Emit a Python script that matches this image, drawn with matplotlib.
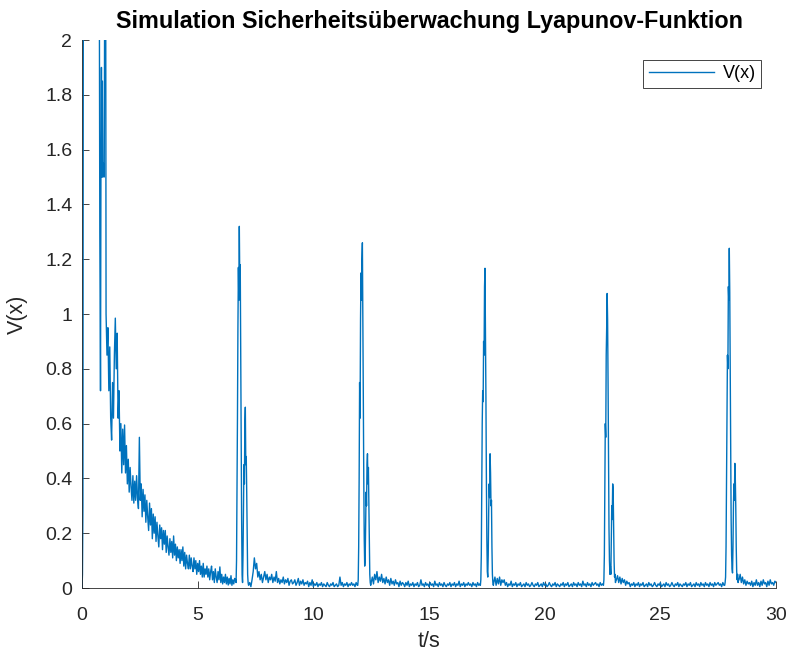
import numpy as np
import matplotlib
matplotlib.use("Agg")
import matplotlib.pyplot as plt

plt.rcParams['font.family'] = ['Liberation Sans', 'DejaVu Sans']

# start-up transient (explicit time stamps), values above 2 are clipped by the axis
t_start = [0.0, 0.02, 0.04, 0.06, 0.08, 0.70, 0.74, 0.77, 0.80, 0.82, 0.84,
           0.86, 0.88, 0.90, 0.93, 0.96, 0.99, 1.02]
v_start = [0.0, 0.05, 0.3, 2.5, 3.0, 3.0, 2.6, 1.3, 0.72, 1.6, 1.9,
           1.5, 1.85, 1.5, 1.55, 1.5, 2.5, 2.6]

# decay after start-up, dt = 0.04 s from 1.04 s
decay_t0, decay_dt = 1.04, 0.04
decay_v = [
    1.00, 0.85, 0.95, 0.72, 0.88, 0.62, 0.54, 0.75, 0.62, 0.85,
    0.985, 0.80, 0.93, 0.62, 0.72, 0.50, 0.60, 0.42, 0.58, 0.45,
    0.595, 0.42, 0.52, 0.38, 0.47, 0.35, 0.44, 0.37, 0.32, 0.41,
    0.31, 0.39, 0.32, 0.41, 0.33, 0.29, 0.55, 0.32, 0.38, 0.26,
    0.36, 0.28, 0.34, 0.24, 0.32, 0.26, 0.21, 0.31, 0.23, 0.29,
    0.18, 0.27, 0.20, 0.26, 0.17, 0.24, 0.19, 0.15, 0.23, 0.18,
    0.22, 0.14, 0.21, 0.16, 0.21, 0.13, 0.19, 0.15, 0.12, 0.18,
    0.13, 0.17, 0.11, 0.19, 0.12, 0.16, 0.10, 0.15, 0.11, 0.14,
    0.09, 0.14, 0.10, 0.15, 0.08, 0.13, 0.07, 0.12, 0.09, 0.07,
    0.12, 0.07, 0.11, 0.08, 0.06, 0.11, 0.07, 0.10, 0.05, 0.09,
    0.06, 0.10, 0.05, 0.08, 0.04, 0.09, 0.04, 0.07, 0.05, 0.08,
    0.04, 0.07, 0.03, 0.06, 0.08, 0.03, 0.06, 0.02, 0.07, 0.04,
    0.02, 0.06, 0.03, 0.077, 0.02, 0.05, 0.015, 0.04, 0.02, 0.05,
    0.015, 0.04, 0.011, 0.035, 0.015, 0.045, 0.01, 0.03, 0.015, 0.035,
]

# pulses, dt = 0.02 s
pulse_dt = 0.02
pulse1_t0 = 6.64
pulse1_v = [0.03, 0.02, 0.10, 0.35, 0.62, 0.95, 1.17, 1.05, 1.32, 1.12, 1.18, 0.85,
            0.55, 0.25, 0.05, 0.02, 0.12, 0.30, 0.45, 0.38, 0.60, 0.66, 0.45, 0.48,
            0.35, 0.18, 0.05, 0.02]
pulse2_t0 = 11.92
pulse2_v = [0.01, 0.03, 0.15, 0.40, 0.75, 0.62, 0.98, 1.15, 1.05, 1.20, 1.26, 1.0,
            0.7, 0.4, 0.18, 0.08, 0.1, 0.22, 0.35, 0.30, 0.45, 0.49, 0.38, 0.44,
            0.30, 0.15, 0.05, 0.02, 0.01]
pulse3_t0 = 17.22
pulse3_v = [0.01, 0.03, 0.12, 0.35, 0.60, 0.72, 0.68, 0.90, 0.85, 1.10, 1.167, 0.95,
            0.70, 0.40, 0.18, 0.06, 0.04, 0.12, 0.28, 0.38, 0.33, 0.49, 0.42, 0.30,
            0.32, 0.15, 0.05, 0.02, 0.01]
pulse4_t0 = 22.54
pulse4_v = [0.01, 0.03, 0.12, 0.35, 0.60, 0.55, 0.85, 0.95, 1.075, 0.98, 0.75, 0.45,
            0.22, 0.10, 0.05, 0.08, 0.05, 0.18, 0.30, 0.25, 0.38, 0.36, 0.22, 0.10,
            0.04, 0.05, 0.02, 0.03]
pulse5_t0 = 27.78
pulse5_v = [0.01, 0.02, 0.04, 0.15, 0.38, 0.62, 0.85, 0.80, 1.10, 1.05, 1.24, 1.08,
            0.80, 0.50, 0.25, 0.12, 0.07, 0.055, 0.15, 0.30, 0.38, 0.32, 0.455, 0.40,
            0.30, 0.15, 0.06, 0.03, 0.05, 0.02, 0.03]

# noise floor between pulses, dt = 0.05 s
floor_dt = 0.05
floor1_t0 = 7.20
floor1_v = [
    0.01, 0.02, 0.005, 0.03, 0.06, 0.11, 0.07, 0.09, 0.04, 0.06,
    0.03, 0.05, 0.02, 0.04, 0.06, 0.03, 0.05, 0.02, 0.04, 0.03,
    0.05, 0.02, 0.04, 0.025, 0.06, 0.02, 0.035, 0.015, 0.03, 0.02,
    0.04, 0.015, 0.03, 0.02, 0.035, 0.01, 0.025, 0.03, 0.015, 0.02,
    0.03, 0.01, 0.02, 0.035, 0.01, 0.025, 0.015, 0.03, 0.01, 0.02,
    0.015, 0.025, 0.005, 0.02, 0.01, 0.03, 0.005, 0.015, 0.01, 0.02,
    0.005, 0.015, 0.01, 0.02, 0.005, 0.015, 0.01, 0.005, 0.02, 0.01,
    0.005, 0.015, 0.01, 0.02, 0.005, 0.01, 0.015, 0.005, 0.01, 0.04,
    0.01, 0.02, 0.005, 0.015, 0.01, 0.02, 0.005, 0.015, 0.01, 0.02,
    0.01, 0.015, 0.005, 0.02, 0.01,
]
floor2_t0 = 12.50
floor2_v = [
    0.02, 0.04, 0.015, 0.05, 0.03, 0.06, 0.02, 0.04, 0.025, 0.05,
    0.02, 0.035, 0.015, 0.04, 0.02, 0.03, 0.01, 0.035, 0.015, 0.025,
    0.01, 0.03, 0.015, 0.02, 0.005, 0.025, 0.01, 0.02, 0.015, 0.005,
    0.02, 0.01, 0.025, 0.005, 0.015, 0.01, 0.02, 0.005, 0.015, 0.01,
    0.02, 0.005, 0.01, 0.03, 0.01, 0.015, 0.005, 0.02, 0.01, 0.015,
    0.005, 0.02, 0.01, 0.015, 0.005, 0.025, 0.01, 0.015, 0.005, 0.02,
    0.01, 0.015, 0.005, 0.02, 0.01, 0.005, 0.015, 0.01, 0.02, 0.005,
    0.015, 0.01, 0.02, 0.005, 0.015, 0.01, 0.025, 0.005, 0.015, 0.01,
    0.02, 0.005, 0.015, 0.01, 0.02, 0.01, 0.015, 0.005, 0.02, 0.01,
    0.015, 0.005, 0.02, 0.01, 0.015,
]
floor3_t0 = 17.80
floor3_v = [
    0.02, 0.04, 0.01, 0.035, 0.015, 0.04, 0.01, 0.03, 0.02, 0.03,
    0.01, 0.02, 0.005, 0.015, 0.01, 0.025, 0.005, 0.015, 0.01, 0.02,
    0.005, 0.015, 0.01, 0.02, 0.005, 0.01, 0.015, 0.005, 0.02, 0.01,
    0.015, 0.005, 0.01, 0.02, 0.01, 0.005, 0.015, 0.01, 0.02, 0.005,
    0.01, 0.015, 0.005, 0.02, 0.01, 0.015, 0.005, 0.01, 0.02, 0.01,
    0.005, 0.015, 0.01, 0.02, 0.005, 0.015, 0.01, 0.005, 0.015, 0.01,
    0.02, 0.005, 0.015, 0.01, 0.02, 0.005, 0.01, 0.015, 0.005, 0.02,
    0.01, 0.015, 0.005, 0.02, 0.01, 0.015, 0.005, 0.025, 0.01, 0.015,
    0.005, 0.02, 0.01, 0.015, 0.005, 0.02, 0.01, 0.015, 0.02, 0.01,
    0.015, 0.005, 0.02, 0.01, 0.015,
]
floor4_t0 = 23.10
floor4_v = [
    0.03, 0.045, 0.02, 0.04, 0.015, 0.035, 0.02, 0.03, 0.01, 0.025,
    0.015, 0.02, 0.005, 0.015, 0.01, 0.02, 0.005, 0.015, 0.01, 0.02,
    0.005, 0.015, 0.01, 0.02, 0.005, 0.01, 0.015, 0.005, 0.02, 0.01,
    0.015, 0.005, 0.01, 0.02, 0.01, 0.005, 0.015, 0.01, 0.02, 0.005,
    0.01, 0.015, 0.005, 0.02, 0.01, 0.015, 0.005, 0.01, 0.02, 0.01,
    0.005, 0.015, 0.01, 0.02, 0.005, 0.015, 0.01, 0.005, 0.015, 0.01,
    0.02, 0.005, 0.015, 0.01, 0.02, 0.005, 0.01, 0.015, 0.005, 0.02,
    0.01, 0.015, 0.005, 0.02, 0.01, 0.015, 0.005, 0.02, 0.01, 0.015,
    0.005, 0.02, 0.01, 0.015, 0.005, 0.02, 0.01, 0.015, 0.02, 0.01,
    0.015, 0.005, 0.02, 0.01,
]
floor5_t0 = 28.40
floor5_v = [
    0.03, 0.05, 0.02, 0.04, 0.015, 0.03, 0.01, 0.025, 0.015, 0.02,
    0.01, 0.025, 0.005, 0.02, 0.01, 0.03, 0.01, 0.02, 0.005, 0.025,
    0.01, 0.03, 0.015, 0.02, 0.005, 0.025, 0.01, 0.03, 0.015, 0.02,
    0.01, 0.025, 0.02,
]


def seg(t0, dt, vals):
    return t0 + dt * np.arange(len(vals)), np.asarray(vals)


parts = [
    (np.asarray(t_start), np.asarray(v_start)),
    seg(decay_t0, decay_dt, decay_v),
    seg(pulse1_t0, pulse_dt, pulse1_v),
    seg(floor1_t0, floor_dt, floor1_v),
    seg(pulse2_t0, pulse_dt, pulse2_v),
    seg(floor2_t0, floor_dt, floor2_v),
    seg(pulse3_t0, pulse_dt, pulse3_v),
    seg(floor3_t0, floor_dt, floor3_v),
    seg(pulse4_t0, pulse_dt, pulse4_v),
    seg(floor4_t0, floor_dt, floor4_v),
    seg(pulse5_t0, pulse_dt, pulse5_v),
    seg(floor5_t0, floor_dt, floor5_v),
]
t = np.concatenate([p[0] for p in parts])
v = np.concatenate([p[1] for p in parts])

fig = plt.figure(figsize=(7.9, 6.53), dpi=100)
ax = fig.add_axes([0.1038, 0.0995, 0.8785, 0.8392])
ax.plot(t, v, color='#0072BD', linewidth=1.0, label='V(x)')

ax.set_xlim(0, 30)
ax.set_ylim(0, 2)
ax.set_xticks(np.arange(0, 31, 5))
ax.set_yticks(np.arange(0, 2.01, 0.2))
ax.set_yticklabels(['0', '0.2', '0.4', '0.6', '0.8', '1', '1.2', '1.4', '1.6', '1.8', '2'])

ax.spines['top'].set_visible(False)
ax.spines['right'].set_visible(False)
for s in ('left', 'bottom'):
    ax.spines[s].set_color('#262626')
    ax.spines[s].set_linewidth(0.6)
ax.tick_params(direction='in', length=5, width=0.6, colors='#262626', labelsize=14)
ax.tick_params(axis='x', pad=14)
ax.tick_params(axis='y', pad=7)

ax.set_title('Simulation Sicherheitsüberwachung Lyapunov-Funktion',
             fontsize=16.8, fontweight='bold', pad=9)
ax.set_xlabel('t/s', fontsize=15.5, color='#262626', labelpad=5)
ax.set_ylabel('V(x)', fontsize=15.5, color='#262626', labelpad=12)

leg = ax.legend(loc='upper right', bbox_to_anchor=(0.9785, 0.9635), fontsize=13,
                fancybox=False, framealpha=1, edgecolor='#262626',
                handlelength=3.6, borderpad=0.3, handletextpad=0.5, borderaxespad=0)
leg.get_frame().set_linewidth(0.6)

fig.savefig('out.png', dpi=100)
